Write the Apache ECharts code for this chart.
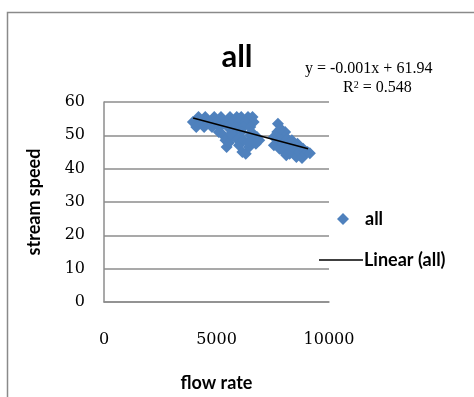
<!DOCTYPE html>
<html>
<head>
<meta charset="utf-8">
<script src="https://cdn.jsdelivr.net/npm/echarts@6/dist/echarts.min.js"></script>
<style>
  html, body { margin: 0; padding: 0; background: #fff; }
  #chart { width: 474px; height: 397px; }
</style>
</head>
<body>
<div id="chart"></div>
<script>
// flow rate vs stream speed
var flowRate = [
  4200, 4500, 4900, 5200, 5600, 5900, 6100, 6400, 6600,
  3950, 4300, 4700, 5000, 5400, 5700, 6000, 6300, 6650,
  4100, 4450, 4800, 5150, 5500, 5850, 6200, 6500,
  5100, 5800, 6100, 6550,
  5300, 5400, 5450, 5550, 5700, 5900, 6000, 6150, 6300, 6200,
  6450, 6500, 6600, 6750, 6800, 6900, 6400, 5650,
  7550, 7550, 7730, 7700, 7750, 7800, 7900, 7950, 8000, 8050,
  8150, 8200, 8250, 8350, 8450, 8550, 8600, 8700, 8800, 8850,
  8950, 9050, 9150, 8100, 7850
];
var streamSpeed = [
  55.5, 55.5, 55.5, 55.5, 55.5, 55.5, 55.5, 55.5, 55.5,
  54.0, 54.0, 54.0, 54.0, 54.0, 54.0, 54.0, 54.0, 54.0,
  52.5, 52.5, 52.5, 52.5, 52.5, 52.5, 52.5, 52.5,
  51.0, 51.0, 51.0, 51.0,
  50.0, 48.5, 46.5, 47.8, 49.5, 49.0, 47.0, 45.0, 44.5, 48.5,
  46.5, 50.0, 48.0, 47.5, 49.5, 48.5, 48.0, 50.5,
  49.5, 47.0, 53.5, 51.0, 48.5, 46.0, 50.0, 47.5, 45.0, 51.0,
  49.0, 46.5, 44.5, 48.5, 46.0, 43.5, 47.5, 45.0, 43.2, 46.0,
  44.5, 45.0, 44.6, 44.0, 52.0
];
// trendline end points as drawn
var trendX = [3960, 9070];
var trendY = [55.2, 46.0];
var xTicks = [0, 5000, 10000];
var yTicks = [0, 10, 20, 30, 40, 50, 60];

var points = flowRate.map(function (x, i) { return [x, streamSpeed[i]]; });
var trend = trendX.map(function (x, i) { return [x, trendY[i]]; });

var chart = echarts.init(document.getElementById('chart'));
var gridColor = '#8c8c8c';
var nameFont = { fontFamily: 'Lato', fontWeight: 'bold', fontSize: 18, color: '#000' };
var tickFont = { fontFamily: 'DejaVu Serif', fontSize: 16, color: '#000' };
var option = {
  animation: false,
  backgroundColor: '#fff',
  title: {
    text: 'all',
    left: 'center',
    top: 36,
    textStyle: { fontFamily: 'Lato', fontWeight: 'bold', fontSize: 31, color: '#000' }
  },
  grid: { left: 104, right: 145, top: 102, bottom: 93 },
  legend: [
    {
      data: [{ name: 'all', icon: 'diamond' }],
      orient: 'vertical',
      left: 332,
      top: 205,
      itemWidth: 12,
      itemHeight: 12,
      textStyle: { fontFamily: 'Lato', fontWeight: 'bold', fontSize: 18, color: '#000', padding: [0, 0, 0, 11] }
    },
    {
      data: [{ name: 'Linear (all)', icon: 'rect' }],
      orient: 'vertical',
      left: 314,
      top: 246,
      itemWidth: 44,
      itemHeight: 1.5,
      textStyle: { fontFamily: 'Lato', fontWeight: 'bold', fontSize: 18, color: '#000', padding: [0, 0, 0, -4] }
    }
  ],
  xAxis: {
    type: 'value',
    min: xTicks[0],
    max: xTicks[xTicks.length - 1],
    interval: 5000,
    name: 'flow rate',
    nameLocation: 'middle',
    nameGap: 72,
    nameTextStyle: nameFont,
    axisLine: { show: true, lineStyle: { color: gridColor, width: 1.5 } },
    axisTick: { show: false },
    splitLine: { show: false },
    axisLabel: Object.assign({ margin: 30, formatter: function (v) { return String(v); } }, tickFont)
  },
  yAxis: {
    type: 'value',
    min: yTicks[0],
    max: yTicks[yTicks.length - 1],
    interval: 10,
    name: 'stream speed',
    nameLocation: 'middle',
    nameGap: 61,
    nameTextStyle: nameFont,
    axisLine: { show: true, lineStyle: { color: gridColor, width: 1.5 } },
    axisTick: { show: false },
    splitLine: { show: true, lineStyle: { color: gridColor, width: 1.5 } },
    axisLabel: Object.assign({ margin: 19 }, tickFont)
  },
  series: [
    {
      name: 'all',
      type: 'scatter',
      data: points,
      symbol: 'diamond',
      symbolSize: 12,
      itemStyle: { color: '#4F81BD', opacity: 1 }
    },
    {
      name: 'Linear (all)',
      type: 'line',
      data: trend,
      symbol: 'none',
      lineStyle: { color: '#000', width: 1.5 },
      itemStyle: { color: '#000' },
      z: 5
    }
  ],
  graphic: [
    {
      type: 'rect',
      shape: { x: 7.5, y: 12.5, width: 520, height: 440 },
      style: { fill: 'none', stroke: '#8a8a8a', lineWidth: 1.5 },
      silent: true
    },
    {
      type: 'text',
      left: 82,
      top: -24,
      style: { text: 'graph', fontFamily: 'Lato', fontWeight: 'bold', fontSize: 24, fill: '#000' },
      silent: true
    },
    {
      type: 'text',
      left: 305,
      top: 61,
      style: { text: 'y = -0.001x + 61.94', fontFamily: 'Liberation Serif', fontSize: 16, fill: '#000' },
      silent: true
    },
    {
      type: 'text',
      left: 343,
      top: 80,
      style: {
        text: '{a|R}{s|2}{a| = 0.548}',
        rich: {
          a: { fontFamily: 'Liberation Serif', fontSize: 16, color: '#000' },
          s: { fontFamily: 'Liberation Serif', fontSize: 10, color: '#000', verticalAlign: 'top', padding: [0, 0, 6, 0] }
        }
      },
      silent: true
    }
  ]
};
chart.setOption(option);
window.addEventListener('resize', function () {
  chart.resize();
});
</script>
</body>
</html>
